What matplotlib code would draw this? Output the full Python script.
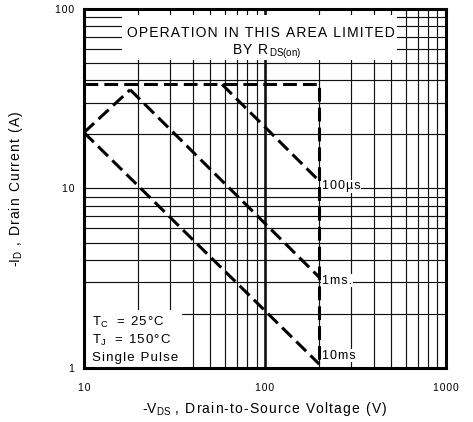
import numpy as np
import matplotlib.pyplot as plt
from matplotlib.patches import Rectangle

plt.rcParams['font.family'] = ['Liberation Sans', 'DejaVu Sans']
plt.rcParams['mathtext.default'] = 'regular'

HS = '\u200a'  # hair space, to imitate the letter-spaced datasheet font


def spaced(s):
    return HS.join(s)


# envelope (RDS(on) limit + max current + BVdss)
env_v = [10, 200, 200]
env_i = [38, 38, 1.05]
# rising part at low voltage
rise_v = [10, 18]
rise_i = [20.5, 35.5]
# pulse lines
p100us_v = [58, 200]
p100us_i = [38, 11]
p1ms_v = [18, 200]
p1ms_i = [35.5, 3.2]
p10ms_v = [10, 200]
p10ms_i = [20.5, 1.05]

pulse_labels = ["100µs", "1ms.", "10ms"]
pulse_label_i = [10.3, 3.06, 1.17]

x_ticks = [10, 100, 1000]
y_ticks = [1, 10, 100]

fig = plt.figure(figsize=(4.73, 4.22), dpi=100)
ax = fig.add_axes([0.1776, 0.128, 0.7647, 0.8507])
ax.set_xscale('log')
ax.set_yscale('log')
ax.set_xlim(10, 1000)
ax.set_ylim(1, 100)

ax.grid(which='both', color='#111111', lw=0.85, zorder=0)
ax.axvline(100, color='black', lw=1.8, zorder=1)

ls = dict(color='black', lw=2.2, dashes=(4.5, 2.0), zorder=5)
ax.plot(env_v, env_i, **ls)
ax.plot(rise_v, rise_i, **ls)
ax.plot(p100us_v, p100us_i, **ls)
ax.plot(p1ms_v, p1ms_i, **ls)
ax.plot(p10ms_v, p10ms_i, **ls)

for lab, yi in zip(pulse_labels, pulse_label_i):
    ax.text(207, yi, spaced(lab), fontsize=9, va='center', ha='left', zorder=6,
            bbox=dict(boxstyle='square,pad=0.05', fc='white', ec='none'))

# white boxes hiding the grid behind the notes
ax.add_patch(Rectangle((0.105, 0.858), 0.76, 0.125, transform=ax.transAxes,
                       fc='white', ec='none', zorder=2))
ax.add_patch(Rectangle((0.0, 0.0), 0.271, 0.162, transform=ax.transAxes,
                       fc='white', ec='none', zorder=2))

ax.text(0.49, 0.933, spaced("OPERATION IN THIS AREA LIMITED"), transform=ax.transAxes,
        fontsize=10, ha='center', va='center', zorder=3)
ax.text(0.505, 0.882, spaced("BY R") + HS + r"$_{DS(on)}$", transform=ax.transAxes,
        fontsize=10, ha='center', va='center', zorder=3)

ax.text(0.022, 0.128, "T$_C$" + spaced("  = 25°C"), transform=ax.transAxes, fontsize=9.5,
        va='center', zorder=3)
ax.text(0.022, 0.078, "T$_J$" + spaced("  = 150°C"), transform=ax.transAxes, fontsize=9.5,
        va='center', zorder=3)
ax.text(0.022, 0.028, spaced("Single Pulse"), transform=ax.transAxes, fontsize=9.5,
        va='center', zorder=3)

ax.set_xticks(x_ticks)
ax.set_xticklabels([spaced(str(t)) for t in x_ticks])
ax.set_yticks(y_ticks)
ax.set_yticklabels([spaced(str(t)) for t in y_ticks])
ax.minorticks_on()
ax.tick_params(which='both', length=0, labelsize=7.5)
ax.tick_params(axis='x', pad=11)
ax.tick_params(axis='y', pad=7)
ax.xaxis.set_minor_formatter(plt.NullFormatter())
ax.yaxis.set_minor_formatter(plt.NullFormatter())

for sp in ax.spines.values():
    sp.set_linewidth(2.2)
    sp.set_zorder(7)

ax.set_xlabel(r"-V$_{DS}$" + spaced(" , Drain-to-Source Voltage (V)"), fontsize=10, labelpad=5)
ax.set_ylabel(r"-I$_D$" + spaced(" , Drain Current (A)"), fontsize=10, labelpad=22)

plt.savefig("out.png", dpi=100)
